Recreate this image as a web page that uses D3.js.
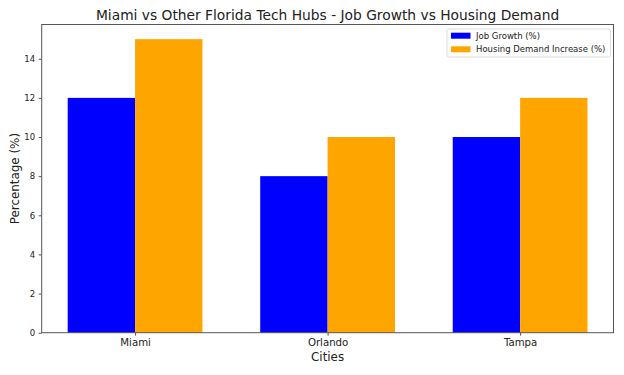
<!DOCTYPE html>
<html><head><meta charset="utf-8">
<script src="https://cdn.jsdelivr.net/npm/d3@7"></script>
<style>body{margin:0;background:#fff}svg{display:block}text{font-family:"DejaVu Sans",sans-serif;fill:#222}</style>
</head><body><svg id="c" width="624" height="375"></svg>
<script>
const cities = ["Miami", "Orlando", "Tampa"];
const jobGrowth = [12, 8, 10];
const housingDemand = [15, 10, 12];
const seriesNames = ["Job Growth (%)", "Housing Demand Increase (%)"];
const seriesColors = ["#0000ff", "#ffa500"];
const yTicks = [0, 2, 4, 6, 8, 10, 12, 14];

const svg = d3.select("#c");
const L = 41.7, R = 613.5, T = 24.5, B = 332.7;
const barW = 0.35;
const idx = cities.map((d, i) => i);
const x = d3.scaleLinear().domain([-barW - 0.135, cities.length - 1 + barW + 0.135]).range([L, R]);
const yMax = d3.max(housingDemand.concat(jobGrowth)) * 1.05;
const y = d3.scaleLinear().domain([0, yMax]).range([B, T]);

const series = [jobGrowth, housingDemand];
series.forEach((vals, s) => {
  svg.append("g").selectAll("rect").data(vals).join("rect")
    .attr("x", (d, i) => x(i + (s === 0 ? -barW : 0)))
    .attr("width", x(barW) - x(0))
    .attr("y", d => y(d))
    .attr("height", d => y(0) - y(d))
    .attr("fill", seriesColors[s]);
});

// frame
svg.append("rect").attr("x", L).attr("y", T).attr("width", R - L).attr("height", B - T)
  .attr("fill", "none").attr("stroke", "#555").attr("stroke-width", 1);

const yAxis = svg.append("g").attr("transform", `translate(${L},0)`)
  .call(d3.axisLeft(y).tickValues(yTicks).tickSize(3).tickPadding(3.5));
yAxis.select(".domain").remove();
yAxis.selectAll("text").style("font-size", "8.5px").style("font-family", "DejaVu Sans").attr("fill", "#222");
yAxis.selectAll("line").attr("stroke", "#555");

const xAxis = svg.append("g").attr("transform", `translate(0,${B})`)
  .call(d3.axisBottom(x).tickValues(idx).tickFormat(i => cities[i]).tickSize(3).tickPadding(3));
xAxis.select(".domain").remove();
xAxis.selectAll("text").style("font-size", "10.2px").style("font-family", "DejaVu Sans").attr("fill", "#222");
xAxis.selectAll("line").attr("stroke", "#555");

svg.append("text").attr("x", (L + R) / 2).attr("y", 19.5).attr("text-anchor", "middle")
  .style("font-size", "13.8px").text("Miami vs Other Florida Tech Hubs - Job Growth vs Housing Demand");
svg.append("text").attr("x", (L + R) / 2).attr("y", 361).attr("text-anchor", "middle")
  .style("font-size", "11.9px").text("Cities");
svg.append("text").attr("transform", `translate(19,${(T + B) / 2}) rotate(-90)`).attr("text-anchor", "middle")
  .style("font-size", "11.9px").text("Percentage (%)");

// legend
const lg = svg.append("g");
lg.append("rect").attr("x", 447).attr("y", 29).attr("width", 163.5).attr("height", 28)
  .attr("rx", 2).attr("fill", "#fff").attr("stroke", "#ddd").attr("stroke-width", 1);
seriesNames.forEach((n, s) => {
  const cy = 35.7 + s * 13.6;
  lg.append("rect").attr("x", 451).attr("y", cy - 3).attr("width", 19.5).attr("height", 6).attr("fill", seriesColors[s]);
  lg.append("text").attr("x", 476).attr("y", cy + 3).style("font-size", "8.5px").text(n);
});
</script></body></html>
